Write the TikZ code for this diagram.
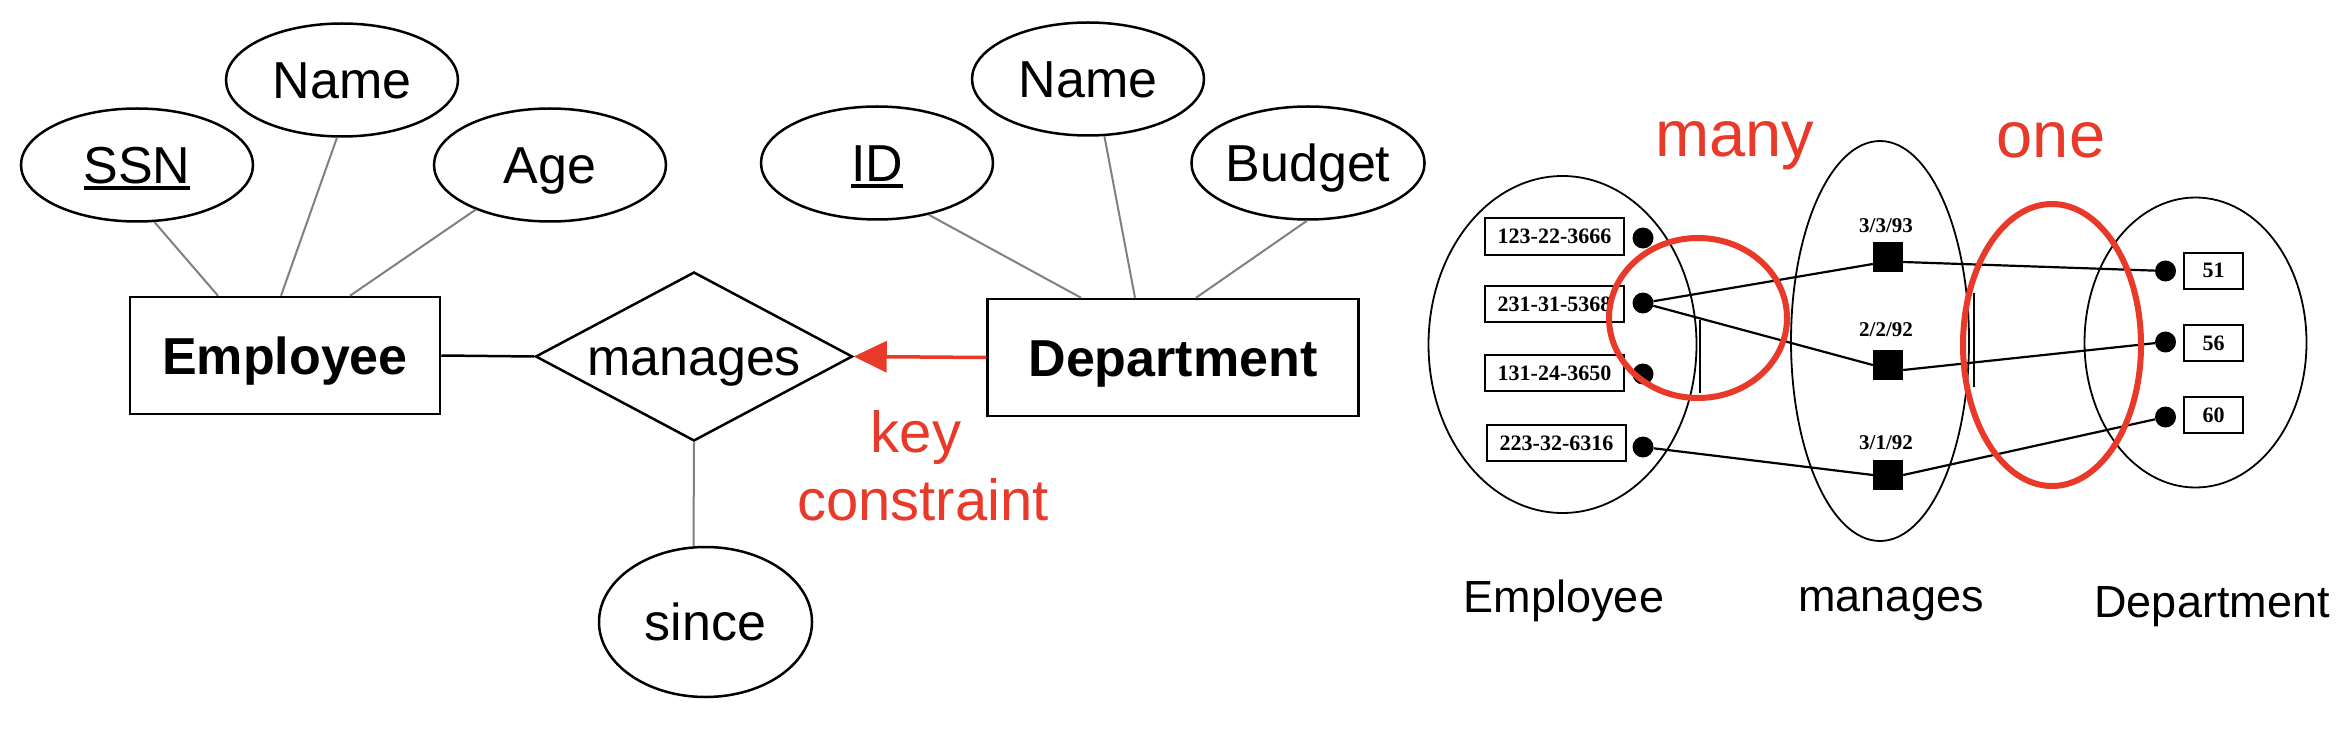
\documentclass[tikz,border=0pt]{standalone}
\usepackage{fontspec}
\setmainfont{Liberation Sans}
\newfontfamily\smallserif{Liberation Serif}
\usetikzlibrary{shapes.geometric,arrows.meta}
\definecolor{keyred}{RGB}{232,57,41}
\definecolor{linkgray}{RGB}{128,128,128}
\newcommand\keyul[1]{\setbox0\hbox{#1}\rlap{\rule[-7pt]{\wd0}{4pt}}#1}
\begin{document}
\begin{tikzpicture}[x=1pt,y=-1pt,
  attr/.style={ellipse, draw, line width=2.5pt, minimum width=232pt, minimum height=113pt,
    inner sep=0pt, font=\fontsize{52}{60}\selectfont, text height=37pt, text depth=0pt},
  entity/.style={rectangle, draw, line width=2.5pt, minimum height=117pt, inner sep=0pt,
    font=\fontsize{52}{60}\selectfont\bfseries, text height=37pt, text depth=0pt},
  rel/.style={diamond, draw, line width=2.5pt, minimum width=317pt, minimum height=169pt,
    aspect=1.865, inner sep=0pt, font=\fontsize{52}{60}\selectfont, text height=37pt, text depth=0pt},
  link/.style={draw=linkgray, line width=2pt},
  keytext/.style={text=keyred, font=\fontsize{58}{64}\selectfont, inner sep=0pt},
  bigred/.style={text=keyred, font=\fontsize{65}{70}\selectfont, inner sep=0pt},
  setlabel/.style={font=\fontsize{45}{50}\selectfont, inner sep=0pt},
  setell/.style={ellipse, draw, line width=1.8pt, inner sep=0pt},
  redell/.style={ellipse, draw=keyred, line width=6pt, inner sep=0pt},
  valbox/.style={draw, line width=2pt, minimum width=139pt, minimum height=36pt, inner sep=0pt,
    font=\smallserif\bfseries\fontsize{22}{24}\selectfont},
  dot/.style={circle, fill, inner sep=0pt, minimum size=21pt},
  sq/.style={rectangle, fill, inner sep=0pt, minimum size=30pt},
  datelab/.style={font=\smallserif\bfseries\fontsize{21}{24}\selectfont, inner sep=0pt},
  inst/.style={line width=2.2pt}
]
\fill[white] (0,0) rectangle (2350,730);
\useasboundingbox (0,0) rectangle (2350,730);

% ---------- ER diagram ----------
\node[attr] (ssn) at (137,165) {\keyul{SSN}};
\node[attr] (ename) at (342,80) {Name};
\node[attr] (age) at (550,165) {Age};
\node[attr] (id) at (877,163) {\keyul{ID}};
\node[attr] (dname) at (1088,79) {Name};
\node[attr] (budget) at (1308,163) {Budget};
\node[entity, minimum width=310pt] (emp) at (285,355.5) {Employee};
\node[entity, minimum width=371pt] (dept) at (1173,357.5) {Department};
\node[rel] (mng) at (694,356.5) {manages};
\node[attr, minimum width=213pt, minimum height=150pt] (since) at (705.5,622) {since};

\draw[link] (ssn.287) -- ([xshift=-67pt]emp.north);
\draw[link] (ename.265) -- ([xshift=-4pt]emp.north);
\draw[link] (age.211) -- ([xshift=65pt]emp.north);
\draw[link] (id.315) -- ([xshift=-92pt]dept.north);
\draw[link] (dname.286) -- ([xshift=-38pt]dept.north);
\draw[link] (budget.269) -- ([xshift=23pt]dept.north);
\draw[link] (mng.south) -- (since.99);
\draw[line width=2.5pt] (emp.east) -- (mng.west);
\draw[keyred, line width=3.5pt, -{Triangle[length=33pt,width=31pt]}] (dept.west) -- (mng.east);

\node[keytext, anchor=base] (key) at (916,452) {key};
\node[keytext, anchor=base] (constr) at (923,520) {constraint};

% ---------- instance diagram ----------
\node[setell, minimum width=268pt, minimum height=337pt] (eset) at (1562.5,344.5) {};
\node[setell, minimum width=178pt, minimum height=400pt] (mset) at (1880,341) {};
\node[setell, minimum width=222pt, minimum height=290pt] (dset) at (2195.5,342.5) {};
\draw[line width=1.8pt] (1700,320) -- (1700,393);
\draw[line width=1.8pt] (1974,293) -- (1974,387);

\node[valbox] (v1) at (1554.5,236.5) {123-22-3666};
\node[valbox] (v2) at (1554.5,304) {231-31-5368};
\node[valbox] (v3) at (1554.5,373) {131-24-3650};
\node[valbox] (v4) at (1556.5,443) {223-32-6316};
\node[dot] (e1) at (1643,238) {};
\node[dot] (e2) at (1643,303) {};
\node[dot] (e3) at (1643,374) {};
\node[dot] (e4) at (1643,447) {};

\node[sq] (m1) at (1888,257) {};
\node[sq] (m2) at (1888,365) {};
\node[sq] (m3) at (1888,475) {};
\node[datelab] (l1) at (1886,226) {3/3/93};
\node[datelab] (l2) at (1886,330) {2/2/92};
\node[datelab] (l3) at (1886,443) {3/1/92};

\node[dot] (d1) at (2165.5,271) {};
\node[dot] (d2) at (2165.5,342) {};
\node[dot] (d3) at (2165.5,417) {};
\node[valbox, minimum width=59pt] (b51) at (2213.5,270.5) {51};
\node[valbox, minimum width=59pt] (b56) at (2213.5,343) {56};
\node[valbox, minimum width=59pt] (b60) at (2213.5,415) {60};

\draw[inst] (e2) -- ([yshift=-7pt]m1.west);
\draw[inst] (e2) -- (m2.west);
\draw[inst] (e4) -- (m3.west);
\draw[inst] ([yshift=-5pt]m1.east) -- (d1);
\draw[inst] ([yshift=-5pt]m2.east) -- (d2);
\draw[inst] (m3.east) -- (d3);

\node[redell, minimum width=178pt, minimum height=160pt] (manyc) at (1698,318) {};
\node[redell, minimum width=178pt, minimum height=282pt] (onec) at (2052,345) {};
\node[bigred, anchor=base] (many) at (1735,157) {many};
\node[bigred, anchor=base] (one) at (2051,158) {one};

\node[setlabel, anchor=base] (lemp) at (1564,612) {Employee};
\node[setlabel, anchor=base] (lmng) at (1891,611) {manages};
\node[setlabel, anchor=base] (ldept) at (2212,617) {Department};
\end{tikzpicture}
\end{document}
